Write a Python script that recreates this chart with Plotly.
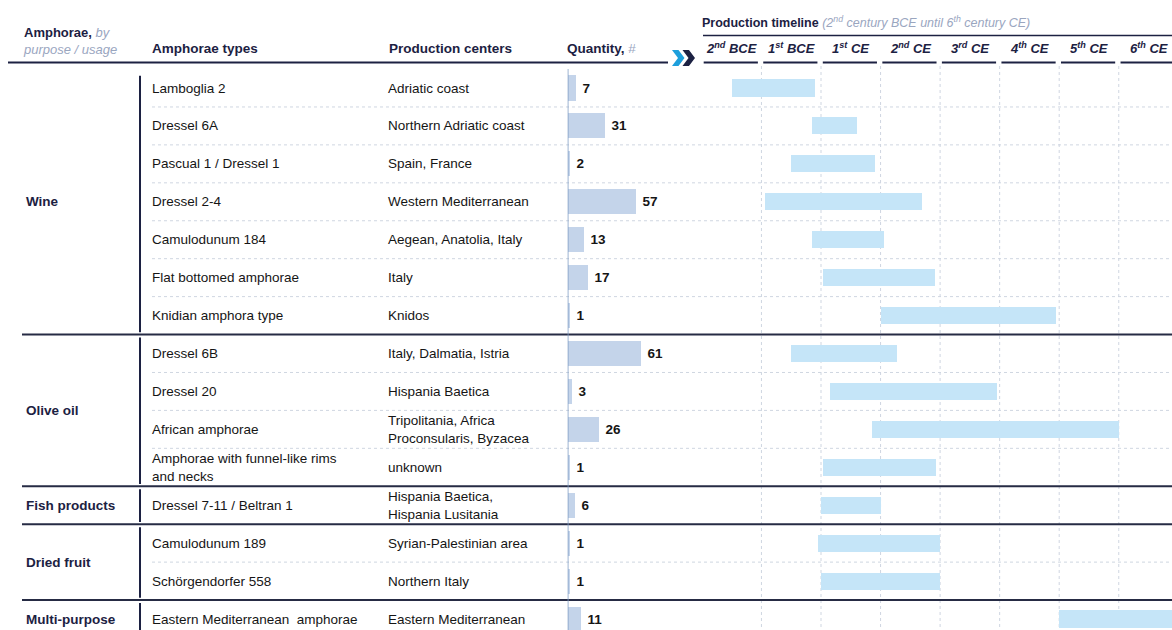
import plotly.graph_objects as go

# ---- data -------------------------------------------------------------
groups = ["Wine", "Olive oil", "Fish products", "Dried fruit", "Multi-purpose"]
group_sizes = [7, 4, 1, 2, 1]

amphora_types = [
    "Lamboglia 2", "Dressel 6A", "Pascual 1 / Dressel 1", "Dressel 2-4",
    "Camulodunum 184", "Flat bottomed amphorae", "Knidian amphora type",
    "Dressel 6B", "Dressel 20", "African amphorae",
    "Amphorae with funnel-like rims<br>and necks",
    "Dressel 7-11 / Beltran 1",
    "Camulodunum 189", "Schörgendorfer 558",
    "Eastern Mediterranean  amphorae",
]
production_centers = [
    "Adriatic coast", "Northern Adriatic coast", "Spain, France",
    "Western Mediterranean", "Aegean, Anatolia, Italy", "Italy", "Knidos",
    "Italy, Dalmatia, Istria", "Hispania Baetica",
    "Tripolitania, Africa<br>Proconsularis, Byzacea", "unknown",
    "Hispania Baetica,<br>Hispania Lusitania",
    "Syrian-Palestinian area", "Northern Italy",
    "Eastern Mediterranean",
]
quantity = [7, 31, 2, 57, 13, 17, 1, 61, 3, 26, 1, 6, 1, 1, 11]

# production period in years (negative = BCE)
start_year = [-150, -15, -50, -95, -15, 3, 100, -50, 15, 85, 3, 0, -5, 0, 400]
end_year = [-10, 60, 90, 170, 105, 192, 395, 128, 295, 500, 193, 100, 200, 200, 600]

century_labels = ["2<sup>nd</sup> BCE", "1<sup>st</sup> BCE", "1<sup>st</sup> CE",
                  "2<sup>nd</sup> CE", "3<sup>rd</sup> CE", "4<sup>th</sup> CE",
                  "5<sup>th</sup> CE", "6<sup>th</sup> CE"]
century_starts = [-200, -100, 0, 100, 200, 300, 400, 500]

# ---- styling ----------------------------------------------------------
W, H = 1172, 630
FONT = "Liberation Sans, Arial, sans-serif"
NAVY = "#1c2142"
TEXT = "#151515"
MUTED = "#9aa6bf"
QTY_BAR = "#c4d4ea"
TL_BAR = "#c5e5f8"
GRID = "#cfd6e1"
FS = 13.5

ROW0_PX, ROW_PX = 88.0, 37.93          # first row centre and row pitch (pixels)
y_top = -ROW0_PX / ROW_PX
y_bot = (H - ROW0_PX) / ROW_PX


def px(x):
    return x / W


def py(y):
    return 1 - y / H


rows = list(range(len(amphora_types)))
durations = [e - s for s, e in zip(start_year, end_year)]

fig = go.Figure()

# quantity bars
fig.add_trace(go.Bar(
    x=quantity, y=rows, orientation="h", xaxis="x", yaxis="y",
    width=0.66, marker=dict(color=QTY_BAR, line=dict(width=0)),
    text=quantity, texttemplate=" %{text}", textposition="outside",
    textfont=dict(family=FONT, size=FS, color=TEXT, weight="bold"),
    cliponaxis=False, hoverinfo="skip",
))

# production timeline bars
fig.add_trace(go.Bar(
    x=durations, base=start_year, y=rows, orientation="h", xaxis="x2", yaxis="y",
    width=0.45, marker=dict(color=TL_BAR, line=dict(width=0)),
    textposition="none", hoverinfo="skip",
))

shapes = []
annotations = []

# vertical dotted century grid
for c in century_starts[1:] + [600]:
    shapes.append(dict(type="line", xref="x2", yref="y", x0=c, x1=c,
                       y0=(66 - ROW0_PX) / ROW_PX, y1=y_bot,
                       line=dict(color=GRID, width=1, dash="dot"), layer="below"))

# row separators (dotted inside a group, solid between groups)
group_ends = []
acc = 0
for n in group_sizes:
    acc += n
    group_ends.append(acc - 1)

for r in rows[:-1]:
    if r in group_ends:
        shapes.append(dict(type="line", xref="paper", yref="y", x0=px(22), x1=1,
                           y0=r + 0.5, y1=r + 0.5,
                           line=dict(color="#262b44", width=2)))
    else:
        shapes.append(dict(type="line", xref="paper", yref="y", x0=px(152), x1=1,
                           y0=r + 0.5, y1=r + 0.5,
                           line=dict(color=GRID, width=1, dash="dot"), layer="below"))

# group labels and their vertical separators
first = 0
for g, n in zip(groups, group_sizes):
    last = first + n - 1
    y0 = first - 0.5 + (0.18 if first == 0 else 0.08)
    y1 = min(last + 0.5 - 0.06, y_bot)
    shapes.append(dict(type="line", xref="paper", yref="y", x0=px(140), x1=px(140),
                       y0=y0, y1=y1, line=dict(color=NAVY, width=2)))
    annotations.append(dict(text=f"<b>{g}</b>", xref="paper", yref="y",
                            x=px(24), y=(first + last) / 2, xanchor="left",
                            yanchor="middle", showarrow=False,
                            font=dict(family=FONT, size=FS, color=NAVY)))
    first = last + 1

# table text columns
for r in rows:
    annotations.append(dict(text=amphora_types[r], xref="paper", yref="y",
                            x=px(150), y=r, xanchor="left", yanchor="middle",
                            align="left", showarrow=False,
                            font=dict(family=FONT, size=FS, color=TEXT)))
    annotations.append(dict(text=production_centers[r], xref="paper", yref="y",
                            x=px(385.5), y=r, xanchor="left", yanchor="middle",
                            align="left", showarrow=False,
                            font=dict(family=FONT, size=FS, color=TEXT)))

# quantity baseline
shapes.append(dict(type="line", xref="x", yref="y", x0=0, x1=0,
                   y0=-0.5, y1=y_bot, line=dict(color="#7f9bc3", width=1.5)))

# ---- header -------------------------------------------------------------
annotations.append(dict(
    text=(f"<b>Amphorae,</b> <i><span style='color:{MUTED}'>by</span></i><br>"
          f"<i><span style='color:{MUTED}'>purpose / usage</span></i>"),
    xref="paper", yref="paper", x=px(21), y=py(41.5), xanchor="left",
    yanchor="middle", align="left", showarrow=False,
    font=dict(family=FONT, size=FS - 0.5, color=NAVY)))
for label, xp in [("<b>Amphorae types</b>", 150), ("<b>Production centers</b>", 387)]:
    annotations.append(dict(text=label, xref="paper", yref="paper", x=px(xp), y=py(49),
                            xanchor="left", yanchor="middle", showarrow=False,
                            font=dict(family=FONT, size=FS, color=NAVY)))
annotations.append(dict(text=f"<b>Quantity,</b> <span style='color:{MUTED}'>#</span>",
                        xref="paper", yref="paper", x=px(565), y=py(49),
                        xanchor="left", yanchor="middle", showarrow=False,
                        font=dict(family=FONT, size=FS, color=NAVY)))
shapes.append(dict(type="line", xref="paper", yref="paper", x0=px(8), x1=px(668),
                   y0=py(62.5), y1=py(62.5), line=dict(color=NAVY, width=2)))


# double chevron
def chevron(x0, color):
    pts = [(x0, 50), (x0 + 6.5, 50), (x0 + 12.5, 58), (x0 + 6.5, 66), (x0, 66), (x0 + 6, 58)]
    path = "M " + " L ".join(f"{px(a):.5f},{py(b):.5f}" for a, b in pts) + " Z"
    return dict(type="path", xref="paper", yref="paper", path=path,
                fillcolor=color, line=dict(width=0))


shapes.append(chevron(672, "#1d9fdc"))
shapes.append(chevron(682.5, NAVY))

# timeline header
annotations.append(dict(
    text=("<b>Production timeline</b> "
          f"<i><span style='color:{MUTED}'>(2<sup>nd</sup> century BCE until "
          "6<sup>th</sup> century CE)</span></i>"),
    xref="paper", yref="paper", x=px(700), y=py(22), xanchor="left",
    yanchor="middle", showarrow=False,
    font=dict(family=FONT, size=FS - 1, color=NAVY)))
shapes.append(dict(type="line", xref="paper", yref="paper", x0=px(703), x1=1,
                   y0=py(35.5), y1=py(35.5), line=dict(color=NAVY, width=1.5)))

for lab, c in zip(century_labels, century_starts):
    annotations.append(dict(text=f"<b><i>{lab}</i></b>", xref="x2", yref="paper",
                            x=c + 50, y=py(48), xanchor="center", yanchor="middle",
                            showarrow=False,
                            font=dict(family=FONT, size=FS - 0.5, color=NAVY)))
    shapes.append(dict(type="line", xref="x2", yref="paper", x0=c + 3, x1=c + 94,
                       y0=py(62.5), y1=py(62.5), line=dict(color=NAVY, width=2)))

fig.update_layout(
    width=W, height=H, autosize=False,
    margin=dict(l=0, r=0, t=0, b=0, pad=0),
    paper_bgcolor="white", plot_bgcolor="white",
    showlegend=False, barmode="overlay", bargap=0,
    xaxis=dict(domain=[px(567.7), px(687.7)], range=[0, 100], visible=False,
               anchor="y", fixedrange=True),
    xaxis2=dict(domain=[px(701.9), 1], range=[-200, (W - 821.0) / 0.5955],
                visible=False, anchor="y", fixedrange=True),
    yaxis=dict(range=[y_bot, y_top], visible=False, fixedrange=True),
    shapes=shapes, annotations=annotations,
)

fig.write_html("out.html")
